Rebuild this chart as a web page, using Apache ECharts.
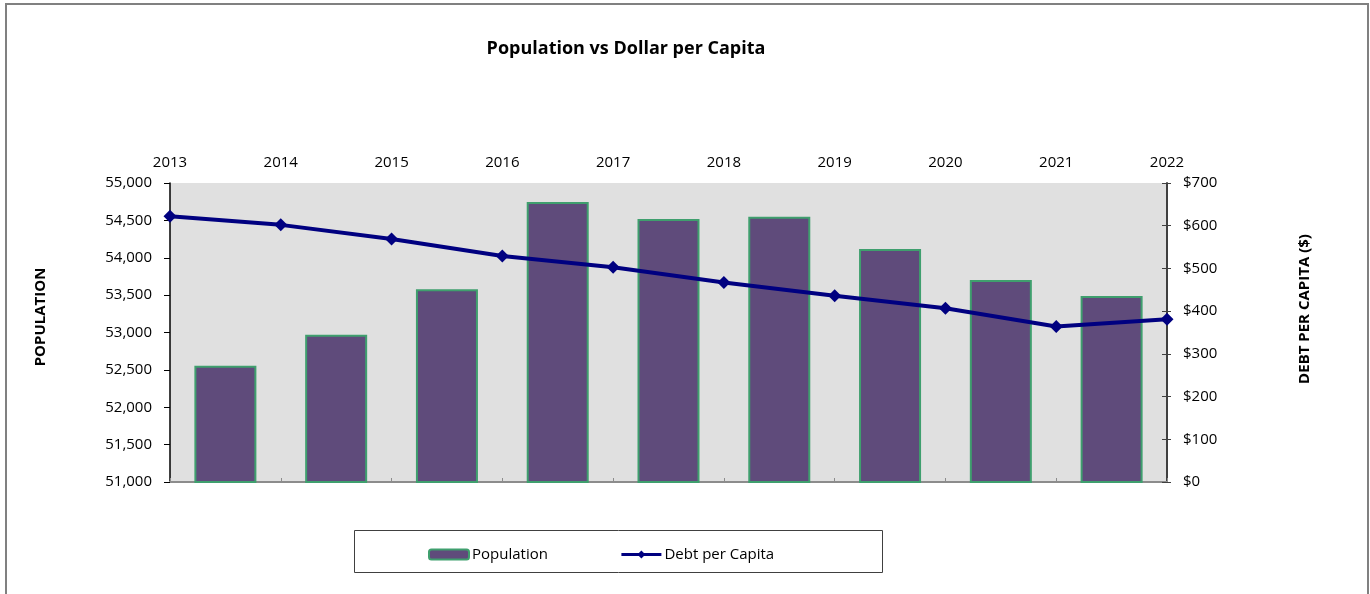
<!DOCTYPE html>
<html>
<head>
<meta charset="utf-8">
<script src="https://cdn.jsdelivr.net/npm/echarts@6/dist/echarts.min.js"></script>
<style>
  html, body { margin: 0; padding: 0; background: #fff; }
  #chart { width: 1370px; height: 594px; }
</style>
</head>
<body>
<div id="chart"></div>
<script>
// Fiscal years shown along the top axis (line points sit on these ticks)
const years = ['2013', '2014', '2015', '2016', '2017', '2018', '2019', '2020', '2021', '2022'];
// Population, one bar per year interval
const population = [52556, 52970, 53578, 54746, 54518, 54549, 54117, 53702, 53488];
// Debt per capita in dollars, one point per year
const debtPerCapita = [622, 602, 569, 529, 503, 467, 436, 407, 364, 381];

const FONT = '"Open Sans", "Noto Sans", sans-serif';
const intervals = population.map((_, i) => years[i] + '-' + years[i + 1]);

const chart = echarts.init(document.getElementById('chart'), null, { renderer: 'canvas' });

chart.setOption({
  animation: false,
  backgroundColor: '#ffffff',
  textStyle: { fontFamily: FONT },
  title: {
    text: 'Population vs Dollar per Capita',
    left: 621, top: 35, textAlign: 'center',
    textStyle: { fontFamily: FONT, fontSize: 18, fontWeight: 'bold', color: '#000' }
  },
  grid: {
    left: 170, right: 203, top: 183, bottom: 112,
    show: true, backgroundColor: '#E0E0E0', borderWidth: 0
  },
  legend: {
    left: 428, top: 547, padding: 0,
    itemGap: 72,
    itemWidth: 40, itemHeight: 10,
    textStyle: { fontFamily: FONT, fontSize: 15, color: '#000', padding: [0, 0, 0, -2] },
    data: [
      { name: 'Population' },
      { name: 'Debt per Capita', lineStyle: { width: 3 }, itemStyle: { color: '#000080' } }
    ]
  },
  xAxis: [
    {
      type: 'category', data: years, position: 'top', boundaryGap: false,
      axisLine: { show: true, lineStyle: { color: '#8c8c8c', width: 2 } },
      axisTick: { show: true, inside: false, length: 4, lineStyle: { color: '#8c8c8c' } },
      axisLabel: { color: '#000', fontSize: 15, fontFamily: FONT, margin: 13 },
      splitLine: { show: false }
    },
    {
      type: 'category', data: intervals, position: 'bottom', boundaryGap: true,
      axisLine: { show: true, lineStyle: { color: '#8c8c8c', width: 2 } },
      axisTick: { show: false }, axisLabel: { show: false }, splitLine: { show: false }
    }
  ],
  yAxis: [
    {
      type: 'value', min: 51000, max: 55000, interval: 500, position: 'left',
      axisLine: { show: true, lineStyle: { color: '#000', width: 1.5 } },
      axisTick: { show: true, inside: false, length: 6, lineStyle: { color: '#000' } },
      axisLabel: {
        color: '#000', fontSize: 15, fontFamily: FONT, margin: 18,
        formatter: v => v.toLocaleString('en-US')
      },
      splitLine: { show: false }
    },
    {
      type: 'value', min: 0, max: 700, interval: 100, position: 'right',
      axisLine: { show: true, lineStyle: { color: '#404040', width: 2 } },
      axisTick: { show: true, inside: false, length: 4, lineStyle: { color: '#404040' } },
      axisLabel: {
        color: '#000', fontSize: 15, fontFamily: FONT, margin: 16,
        formatter: v => '$' + v
      },
      splitLine: { show: false }
    },
    {
      // inner half of the crossing ticks on the right axis
      type: 'value', min: 0, max: 700, interval: 100, position: 'right',
      axisLine: { show: false },
      axisTick: { show: true, inside: true, length: 5, lineStyle: { color: '#404040' } },
      axisLabel: { show: false }, splitLine: { show: false }
    }
  ],
  graphic: [
    {
      type: 'rect', silent: true,
      shape: { x: 6, y: 4, width: 1362, height: 600 },
      style: { fill: 'none', stroke: '#808080', lineWidth: 2 }
    },
    {
      type: 'rect', silent: true,
      shape: { x: 354.5, y: 530.5, width: 528, height: 42 },
      style: { fill: 'none', stroke: '#404040', lineWidth: 1 }
    },
    {
      type: 'text', silent: true, x: 41, y: 317, rotation: Math.PI / 2,
      style: {
        text: 'POPULATION', font: 'bold 15px ' + FONT, fill: '#000',
        textAlign: 'center', textVerticalAlign: 'middle'
      }
    },
    {
      type: 'text', silent: true, x: 1305, y: 309, rotation: Math.PI / 2,
      style: {
        text: 'DEBT PER CAPITA ($)', font: 'bold 15px ' + FONT, fill: '#000',
        textAlign: 'center', textVerticalAlign: 'middle'
      }
    }
  ],
  series: [
    {
      name: 'Population', type: 'bar',
      xAxisIndex: 1, yAxisIndex: 0,
      data: population, barWidth: 62,
      itemStyle: { color: '#5F4B7B', borderColor: '#3F9F6E', borderWidth: 2 },
      z: 2
    },
    {
      name: 'Debt per Capita', type: 'line',
      xAxisIndex: 0, yAxisIndex: 1,
      data: debtPerCapita,
      symbol: 'diamond', symbolSize: 13,
      lineStyle: { color: '#000080', width: 4 },
      itemStyle: { color: '#000080' },
      z: 3
    }
  ]
});
</script>
</body>
</html>
